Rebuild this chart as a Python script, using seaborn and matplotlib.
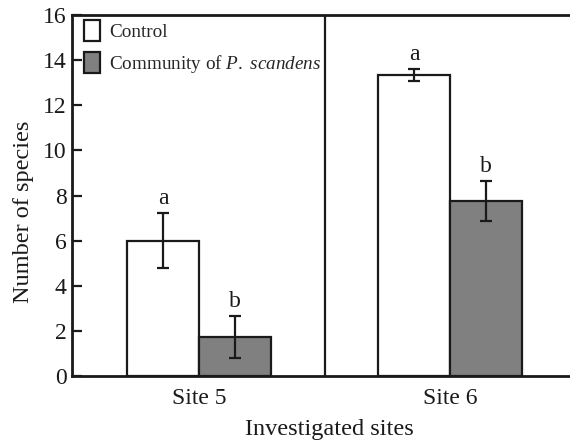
import matplotlib
matplotlib.use("Agg")
import matplotlib.pyplot as plt
import seaborn as sns
import pandas as pd
import numpy as np

sites = ["Site 5", "Site 6"]
groups = ["Control", "Community of $\\mathit{P.}$ $\\mathit{scandens}$"]
control_vals = [6.0, 13.33]
community_vals = [1.72, 7.75]
control_err = [1.22, 0.27]
community_err = [0.92, 0.9]
control_letters = ["a", "a"]
community_letters = ["b", "b"]

sns.set_theme(style="white")
plt.rcParams["font.family"] = ["Liberation Serif", "DejaVu Serif"]
plt.rcParams["mathtext.fontset"] = "custom"
plt.rcParams["mathtext.rm"] = "Liberation Serif"
plt.rcParams["mathtext.it"] = "Liberation Serif:italic"

df = pd.DataFrame({
    "site": sites * 2,
    "group": [groups[0]] * 2 + [groups[1]] * 2,
    "value": control_vals + community_vals,
})

ink = "#1a1a1a"
fig = plt.figure(figsize=(5.7, 4.43), dpi=100)
ax = fig.add_axes([72 / 570, 1 - 376 / 443, 1 - 72 / 570, (376 - 15) / 443])

sns.barplot(data=df, x="site", y="value", hue="group", order=sites, hue_order=groups,
            palette=["white", "#808080"], edgecolor=ink, linewidth=1.6,
            width=0.574, errorbar=None, ax=ax)

errs = control_err + community_err
letters = control_letters + community_letters
vals = control_vals + community_vals
for patch, e, lab, v in zip(ax.patches[:4], errs, letters, vals):
    xc = patch.get_x() + patch.get_width() / 2
    ax.errorbar(xc, v, yerr=e, fmt="none", ecolor=ink, elinewidth=1.6,
                capsize=4.5, capthick=1.6, zorder=5)
    ax.annotate(lab, (xc, v + e), xytext=(0, 3), textcoords="offset points",
                ha="center", va="bottom", fontsize=17, color=ink)

ax.axvline(0.5, color=ink, lw=1.6)
ax.set_xlim(-0.506, 1.478)
ax.set_ylim(0, 16)
ax.set_yticks(np.arange(0, 17, 2))
ax.tick_params(axis="y", direction="in", length=7, width=1.6, labelsize=17,
               colors=ink, left=True, pad=4)
ax.tick_params(axis="x", length=0, labelsize=17, colors=ink, pad=9)
ax.set_xlabel("Investigated sites", fontsize=17.5, color=ink)
ax.set_ylabel("Number of species", fontsize=17.5, color=ink)
ax.xaxis.set_label_coords(0.516, -0.12)
ax.yaxis.set_label_coords(-0.077, 0.454)
for s in ["left", "bottom", "top"]:
    ax.spines[s].set_visible(True)
    ax.spines[s].set_color(ink)
    ax.spines[s].set_linewidth(2)
ax.spines["right"].set_visible(False)

handles, labels = ax.get_legend_handles_labels()
leg = ax.legend(handles, labels, loc="upper left", bbox_to_anchor=(0.018, 0.995),
                frameon=False, prop={"family": "Liberation Serif", "size": 13.8},
                handlelength=0.85, handleheight=1.35, handletextpad=0.45,
                labelspacing=0.55, borderaxespad=0.0, borderpad=0.15)
for h in leg.legend_handles:
    h.set_edgecolor(ink)
    h.set_linewidth(1.6)

fig.savefig("out.png", dpi=100)
